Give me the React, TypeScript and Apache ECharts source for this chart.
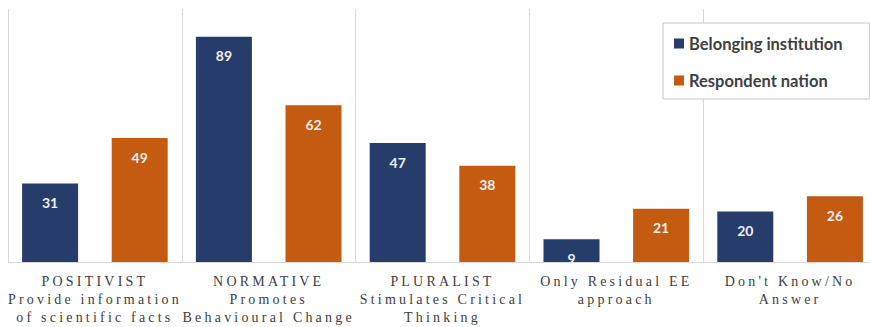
import React, { useEffect, useRef } from "react";
import * as echarts from "echarts";

// Category labels (multi-line)
const categories: string[] = [
  "POSITIVIST\nProvide information\nof scientific facts",
  "NORMATIVE\nPromotes\nBehavioural Change",
  "PLURALIST\nStimulates Critical\nThinking",
  "Only Residual EE\napproach",
  "Don't Know/No\nAnswer",
];

const seriesNames: string[] = ["Belonging institution", "Respondent nation"];
const belongingInstitution: number[] = [31, 89, 47, 9, 20];
const respondentNation: number[] = [49, 62, 38, 21, 26];

const BLUE = "#263c6b";
const ORANGE = "#c55a11";
const GRID_LINE = "#d9d9d9";

export default function App() {
  const ref = useRef<HTMLDivElement>(null);

  useEffect(() => {
    document.body.style.margin = "0";
    if (!ref.current) return;
    const chart = echarts.init(ref.current, undefined, { renderer: "svg" });

    const dataLabel = {
      show: true,
      position: "insideTop" as const,
      distance: 12,
      color: "#eeeeee",
      fontFamily: "Lato",
      fontWeight: "bold" as const,
      fontSize: 14,
    };

    chart.setOption({
      animation: false,
      backgroundColor: "#ffffff",
      // the last category runs past the right edge of the canvas
      grid: { left: 8, top: 9, width: 869, height: 253, outerBoundsMode: "none", containLabel: false },
      legend: {
        orient: "vertical",
        left: 663,
        top: 23,
        padding: [12, 27, 10, 11],
        itemGap: 20,
        itemWidth: 10,
        itemHeight: 10,
        icon: "rect",
        backgroundColor: "#ffffff",
        borderColor: "#c6c6c6",
        borderWidth: 1,
        z: 10,
        textStyle: {
          fontFamily: "Lato",
          fontWeight: "bold",
          fontSize: 16.5,
          lineHeight: 17,
          color: "#404040",
        },
        data: seriesNames,
      },
      xAxis: {
        type: "category",
        data: categories,
        axisLine: { show: true, lineStyle: { color: GRID_LINE, width: 1 } },
        axisTick: { show: false, interval: 0 },
        splitLine: { show: true, interval: 0, lineStyle: { color: GRID_LINE, width: 1 } },
        axisLabel: {
          interval: 0,
          margin: 10,
          fontFamily: "Liberation Serif",
          fontSize: 14,
          lineHeight: 18,
          color: "#404040",
        },
      },
      yAxis: {
        type: "value",
        min: 0,
        max: 100,
        show: false,
        splitLine: { show: false },
      },
      series: [
        {
          name: seriesNames[0],
          type: "bar",
          data: belongingInstitution,
          barWidth: 56,
          barGap: "60%",
          itemStyle: { color: BLUE },
          label: dataLabel,
        },
        {
          name: seriesNames[1],
          type: "bar",
          data: respondentNation,
          barWidth: 56,
          barGap: "60%",
          itemStyle: { color: ORANGE },
          label: dataLabel,
        },
      ],
    });

    return () => chart.dispose();
  }, []);

  return (
    <div className="chart-wrap">
      <style>{`.chart-wrap text[style*="Liberation Serif"] { letter-spacing: 3.2px; }`}</style>
      <div ref={ref} style={{ width: 870, height: 327 }} />
    </div>
  );
}
